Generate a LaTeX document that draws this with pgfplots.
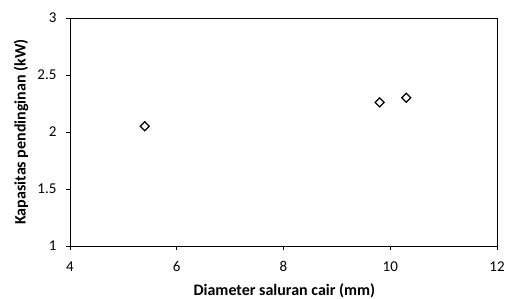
\documentclass[border=0pt]{standalone}
\usepackage{pgfplots}
\pgfplotsset{compat=1.18}
\usepackage{fontspec}
\setmainfont{Carlito}
\begin{document}
\begin{tikzpicture}
\useasboundingbox (-70pt,-53pt) rectangle (440pt,18pt+228pt);
\begin{axis}[
  at={(0,0)}, anchor=south west,
  scale only axis, width=427pt, height=228pt,
  xmin=4, xmax=12, ymin=1, ymax=3,
  xtick={4,6,8,10,12}, ytick={1,1.5,2,2.5,3},
  tick align=outside, tick pos=left,
  major tick length=4pt,
  axis line style={line width=0.9pt},
  tick style={black, line width=0.8pt},
  /pgf/number format/assume math mode=true,
  ticklabel style={font=\fontsize{15}{17}\selectfont},
  xticklabel style={yshift=-8pt},
  yticklabel style={xshift=-6pt},
  xlabel={\textbf{Diameter saluran cair (mm)}},
  ylabel={\textbf{Kapasitas pendinginan (kW)}},
  label style={font=\fontsize{16}{18}\selectfont},
  xlabel style={at={(axis description cs:0.502,-0.197)}, anchor=center},
  ylabel style={at={(axis description cs:-0.1148,0.5)}, anchor=center},
]
\addplot[only marks, mark=square, mark size=3.2pt, mark options={rotate=45, line width=1.2pt, black}] coordinates {
  (5.4,2.05) (9.8,2.26) (10.3,2.30)
};
\end{axis}
\end{tikzpicture}
\end{document}
